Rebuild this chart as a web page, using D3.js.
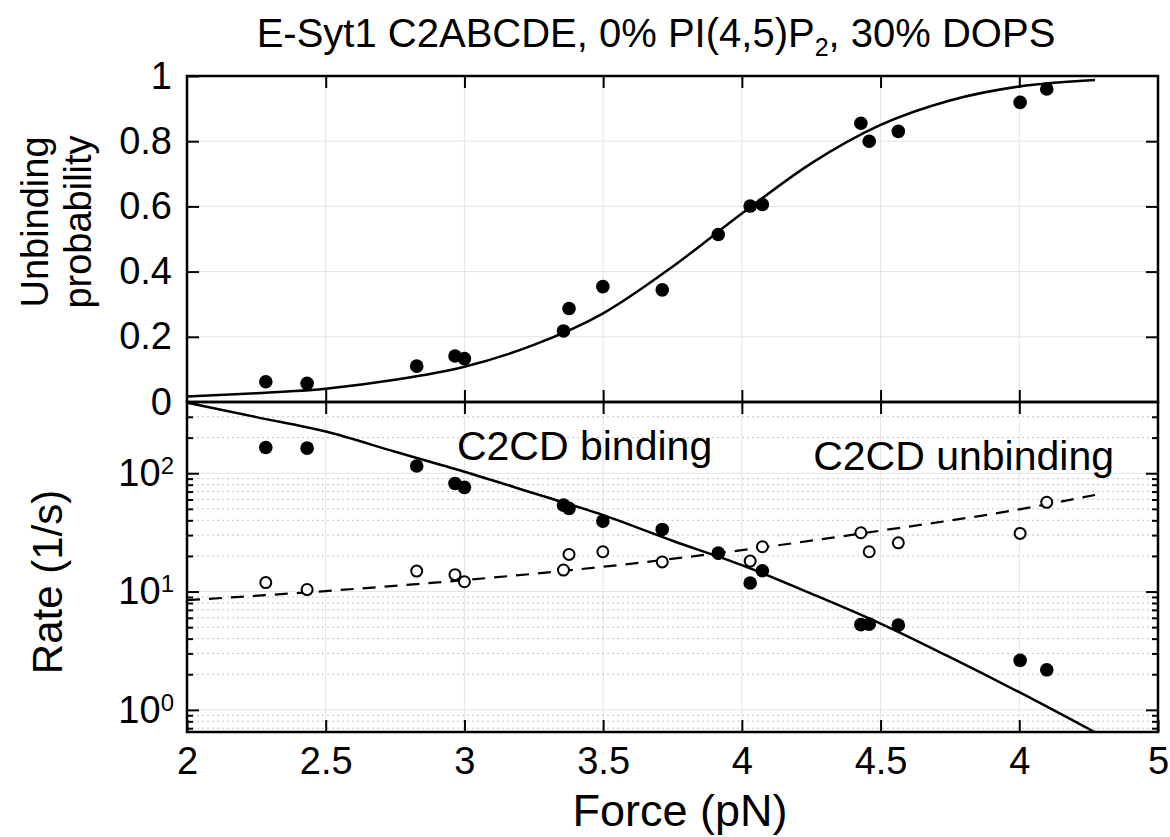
<!DOCTYPE html>
<html>
<head>
<meta charset="utf-8">
<script src="https://cdn.jsdelivr.net/npm/d3@7"></script>
<style>
  body { margin: 0; background: #fff; }
  text { font-family: "Liberation Sans", Arial, sans-serif; fill: #000; }
</style>
</head>
<body>
<svg id="chart" width="1170" height="837"></svg>
<script>
// force ticks (labels copied as printed in the figure)
var X_TICKS = [2, 2.5, 3, 3.5, 4, 4.5, 5, 5.5];
var X_LABELS = ["2", "2.5", "3", "3.5", "4", "4.5", "4", "5"];
var P_TICKS = [0, 0.2, 0.4, 0.6, 0.8, 1];
var P_LABELS = ["0", "0.2", "0.4", "0.6", "0.8", "1"];
var R_TICKS = [1, 10, 100];
var R_EXP = ["0", "1", "2"];

// measured points
var FORCE = [2.284, 2.433, 2.828, 2.966, 3.0, 3.357, 3.377, 3.499, 3.713, 3.915, 4.03, 4.074, 4.429, 4.459, 4.564, 5.003, 5.099];
var PROB = [0.062, 0.057, 0.110, 0.141, 0.133, 0.218, 0.287, 0.354, 0.344, 0.514, 0.601, 0.606, 0.855, 0.800, 0.830, 0.919, 0.960];
var BINDING = [165, 163, 115, 82, 76, 53.8, 50.5, 39.4, 33.5, 21.2, 11.8, 15, 5.25, 5.3, 5.2, 2.62, 2.18];
var UNBINDING = [11.9, 10.4, 14.9, 13.9, 12.1, 15.2, 20.6, 21.7, 17.8, 21, 18.1, 23.9, 31.4, 21.7, 25.8, 31, 56.8];

// fitted curves
var FIT_F = [2.0, 2.25, 2.5, 2.75, 3.0, 3.25, 3.5, 3.75, 4.0, 4.25, 4.5, 4.75, 5.0, 5.273];
var FIT_PROB = [0.017, 0.027, 0.041, 0.068, 0.108, 0.175, 0.272, 0.415, 0.578, 0.732, 0.850, 0.925, 0.968, 0.988];
var FIT_BIND = [395, 298, 225, 152, 103, 67.7, 44.3, 26.9, 16.7, 9.6, 5.36, 2.79, 1.41, 0.646];
var FIT_UNB_F = [2.0, 2.5, 3.0, 3.5, 4.0, 4.5, 5.0, 5.273];
var FIT_UNB = [8.45, 10.1, 12.5, 16.2, 22.4, 32.7, 49.5, 65.5];

var svg = d3.select("#chart");
var left = 187, right = 1158, top1 = 76, mid = 402, bot = 732;

var x = d3.scaleLinear().domain([2, 5.5]).range([left, right]);
var yP = d3.scaleLinear().domain([0, 1]).range([mid, top1]);
var yR = d3.scaleLog().domain([0.65, 400]).range([bot, mid]);

var minor = [];
[0.1, 1, 10, 100].forEach(function(d) {
  for (var i = 2; i <= 9; i++) {
    var v = d * i;
    if (v > 0.65 && v < 400) minor.push(v);
  }
});

var grid = svg.append("g").attr("stroke", "#e3e3e3").attr("stroke-width", 1);
X_TICKS.forEach(function(t) {
  grid.append("line").attr("x1", x(t)).attr("x2", x(t)).attr("y1", top1).attr("y2", bot);
});
P_TICKS.forEach(function(t) {
  grid.append("line").attr("x1", left).attr("x2", right).attr("y1", yP(t)).attr("y2", yP(t));
});
R_TICKS.forEach(function(t) {
  grid.append("line").attr("x1", left).attr("x2", right).attr("y1", yR(t)).attr("y2", yR(t));
});
minor.forEach(function(t) {
  grid.append("line").attr("x1", left).attr("x2", right).attr("y1", yR(t)).attr("y2", yR(t))
    .attr("stroke", "#c4c4c4").attr("stroke-dasharray", "2,3");
});

// curves
var lineP = d3.line().x(function(d, i) { return x(FIT_F[i]); }).y(function(d) { return yP(d); }).curve(d3.curveMonotoneX);
var lineB = d3.line().x(function(d, i) { return x(FIT_F[i]); }).y(function(d) { return yR(d); }).curve(d3.curveMonotoneX);
var lineU = d3.line().x(function(d, i) { return x(FIT_UNB_F[i]); }).y(function(d) { return yR(d); }).curve(d3.curveMonotoneX);

svg.append("defs").append("clipPath").attr("id", "clipR")
  .append("rect").attr("x", left).attr("y", mid).attr("width", right - left).attr("height", bot - mid);

svg.append("path").datum(FIT_PROB).attr("d", lineP)
  .attr("fill", "none").attr("stroke", "#000").attr("stroke-width", 2.5);
svg.append("path").datum(FIT_BIND).attr("d", lineB).attr("clip-path", "url(#clipR)")
  .attr("fill", "none").attr("stroke", "#000").attr("stroke-width", 2.5);
svg.append("path").datum(FIT_UNB).attr("d", lineU)
  .attr("fill", "none").attr("stroke", "#000").attr("stroke-width", 2.2).attr("stroke-dasharray", "13,9");

// points
svg.append("g").selectAll("circle").data(PROB).enter().append("circle")
  .attr("cx", function(d, i) { return x(FORCE[i]); })
  .attr("cy", function(d) { return yP(d); })
  .attr("r", 6.8).attr("fill", "#000");

svg.append("g").selectAll("circle").data(UNBINDING).enter().append("circle")
  .attr("cx", function(d, i) { return x(FORCE[i]); })
  .attr("cy", function(d) { return yR(d); })
  .attr("r", 5.5).attr("fill", "#fff").attr("stroke", "#000").attr("stroke-width", 2);

svg.append("g").selectAll("circle").data(BINDING).enter().append("circle")
  .attr("cx", function(d, i) { return x(FORCE[i]); })
  .attr("cy", function(d) { return yR(d); })
  .attr("r", 6.8).attr("fill", "#000");

// axes
function styleAxis(g) {
  g.select(".domain").remove();
  g.selectAll(".tick line").attr("stroke", "#000").attr("stroke-width", 2);
  g.selectAll("text").style("font-size", "38px").attr("fill", "#000");
}

svg.append("g").attr("transform", "translate(" + left + ",0)")
  .call(d3.axisLeft(yP).tickValues(P_TICKS).tickSize(-12).tickSizeOuter(0).tickPadding(15)
    .tickFormat(function(d, i) { return P_LABELS[i]; }))
  .call(styleAxis);
svg.append("g").attr("transform", "translate(" + right + ",0)")
  .call(d3.axisRight(yP).tickValues(P_TICKS.slice(1, 5)).tickSize(-12).tickSizeOuter(0).tickFormat(""))
  .call(styleAxis);

var rl = svg.append("g").attr("transform", "translate(" + left + ",0)")
  .call(d3.axisLeft(yR).tickValues(R_TICKS).tickSize(-12).tickSizeOuter(0).tickPadding(13)
    .tickFormat(function() { return "10"; }))
  .call(styleAxis);
rl.selectAll(".tick text").each(function(d, i) {
  d3.select(this).append("tspan").attr("dy", "-0.5em").style("font-size", "24px").text(R_EXP[i]);
});
svg.append("g").attr("transform", "translate(" + left + ",0)")
  .call(d3.axisLeft(yR).tickValues(minor).tickSize(-6).tickSizeOuter(0).tickFormat(""))
  .call(styleAxis);
svg.append("g").attr("transform", "translate(" + right + ",0)")
  .call(d3.axisRight(yR).tickValues(R_TICKS).tickSize(-12).tickSizeOuter(0).tickFormat(""))
  .call(styleAxis);
svg.append("g").attr("transform", "translate(" + right + ",0)")
  .call(d3.axisRight(yR).tickValues(minor).tickSize(-6).tickSizeOuter(0).tickFormat(""))
  .call(styleAxis);

svg.append("g").attr("transform", "translate(0," + top1 + ")")
  .call(d3.axisTop(x).tickValues(X_TICKS.slice(1, 7)).tickSize(-12).tickSizeOuter(0).tickFormat(""))
  .call(styleAxis);
svg.append("g").attr("transform", "translate(0," + mid + ")")
  .call(d3.axisBottom(x).tickValues(X_TICKS.slice(1, 7)).tickSize(-12).tickSizeOuter(0).tickFormat(""))
  .call(styleAxis);
svg.append("g").attr("transform", "translate(0," + mid + ")")
  .call(d3.axisTop(x).tickValues(X_TICKS.slice(1, 7)).tickSize(-12).tickSizeOuter(0).tickFormat(""))
  .call(styleAxis);
svg.append("g").attr("transform", "translate(0," + bot + ")")
  .call(d3.axisBottom(x).tickValues(X_TICKS).tickSize(-12).tickSizeOuter(0).tickPadding(15)
    .tickFormat(function(d, i) { return X_LABELS[i]; }))
  .call(styleAxis);

// frames
svg.append("rect").attr("x", left).attr("y", top1).attr("width", right - left).attr("height", mid - top1)
  .attr("fill", "none").attr("stroke", "#000").attr("stroke-width", 2.5);
svg.append("rect").attr("x", left).attr("y", mid).attr("width", right - left).attr("height", bot - mid)
  .attr("fill", "none").attr("stroke", "#000").attr("stroke-width", 2.5);

// labels
var title = svg.append("text").attr("x", 656).attr("y", 47).attr("text-anchor", "middle")
  .style("font-size", "40px");
title.append("tspan").text("E-Syt1 C2ABCDE, 0% PI(4,5)P");
title.append("tspan").attr("dy", 9).style("font-size", "25px").text("2");
title.append("tspan").attr("dy", -9).text(", 30% DOPS");

svg.append("text").attr("x", 680).attr("y", 826).attr("text-anchor", "middle")
  .style("font-size", "45px").text("Force (pN)");

svg.append("text").attr("transform", "translate(48,222) rotate(-90)").attr("text-anchor", "middle")
  .style("font-size", "38px").text("Unbinding");
svg.append("text").attr("transform", "translate(91,222) rotate(-90)").attr("text-anchor", "middle")
  .style("font-size", "38px").text("probability");
svg.append("text").attr("transform", "translate(62,582) rotate(-90)").attr("text-anchor", "middle")
  .style("font-size", "42px").text("Rate (1/s)");

svg.append("text").attr("x", x(2.973)).attr("y", yR(130)).style("font-size", "41px").text("C2CD binding");
svg.append("text").attr("x", x(4.257)).attr("y", yR(106.6)).style("font-size", "41px").text("C2CD unbinding");
</script>
</body>
</html>
